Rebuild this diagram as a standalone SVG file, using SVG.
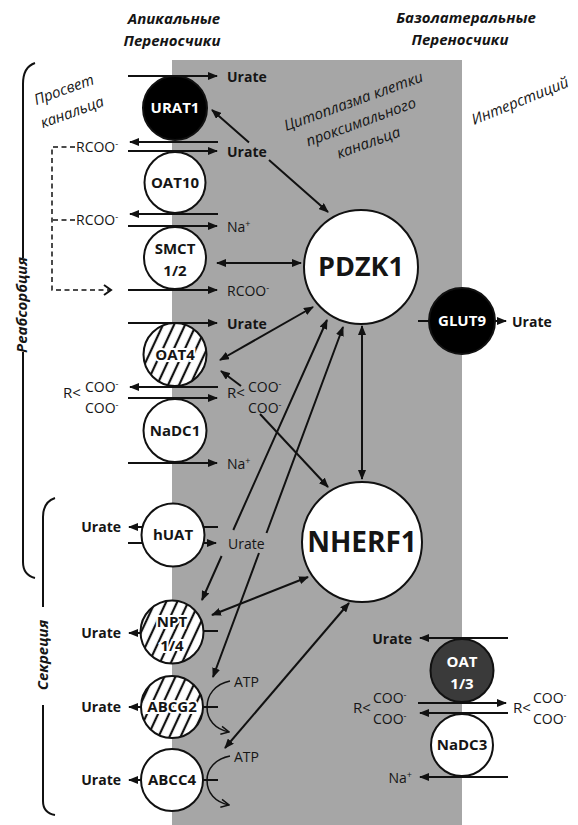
<svg xmlns="http://www.w3.org/2000/svg" width="578" height="825" viewBox="0 0 578 825">
<defs>
<style>
.t{font-family:"Open Sans","Noto Sans",sans-serif;font-size:14px;fill:#151515}
.b{font-weight:bold}
.h{font-weight:bold;font-style:italic;font-size:15px;text-anchor:middle}
.i{font-style:italic;font-size:15px;text-anchor:middle}
.c{font-weight:bold;font-size:15px;text-anchor:middle}
.big{font-weight:bold;text-anchor:middle}
.r{font-size:15px}
.w{fill:#fff}
.k{stroke:#fff;stroke-width:4;paint-order:stroke}
.ln{fill:none;stroke:#111;stroke-width:2}
.ar{fill:none;stroke:#111;stroke-width:2;marker-end:url(#ah)}
.da{fill:none;stroke:#111;stroke-width:2;marker-start:url(#ah);marker-end:url(#ah)}
.ds{fill:none;stroke:#111;stroke-width:1.5;stroke-dasharray:5 3.5}
.cv{fill:none;stroke:#111;stroke-width:1.5;marker-end:url(#ch)}
.nd{stroke:#111;stroke-width:2}
.sup{font-size:9px}
</style>
<marker id="ah" viewBox="0 0 10 8" refX="9" refY="4" markerWidth="10" markerHeight="8" markerUnits="userSpaceOnUse" orient="auto-start-reverse"><path d="M0,0 L10,4 L0,8 z" fill="#111"/></marker>
<marker id="ch" viewBox="0 0 10 10" refX="9" refY="5" markerWidth="10" markerHeight="10" markerUnits="userSpaceOnUse" orient="auto"><path d="M1,1 L9,5 L1,9" fill="none" stroke="#111" stroke-width="1.5"/></marker>
<pattern id="hatch" patternUnits="userSpaceOnUse" width="10" height="10" patternTransform="rotate(25)"><rect width="10" height="10" fill="#fff"/><line x1="5" y1="-1" x2="5" y2="11" stroke="#111" stroke-width="2.2"/></pattern>
</defs>
<rect width="578" height="825" fill="#fff"/>
<rect id="cytoplasm" x="172" y="60" width="290" height="765" fill="#a6a6a6"/>

<g id="titles">
<text class="t h" x="174" y="24">Апикальные</text>
<text class="t h" x="172" y="46">Переносчики</text>
<text class="t h" x="466" y="23">Базолатеральные</text>
<text class="t h" x="460" y="45">Переносчики</text>
<g transform="translate(68,101) rotate(-20)"><text class="t i" x="0" y="-7">Просвет</text><text class="t i" x="0" y="17">канальца</text></g>
<g transform="translate(361,122) rotate(-20)"><text class="t i" x="0" y="-17">Цитоплазма клетки</text><text class="t i" x="0" y="5">проксимального</text><text class="t i" x="0" y="27">канальца</text></g>
<g transform="translate(520,101) rotate(-22)"><text class="t i" x="0" y="5">Интерстиций</text></g>
<text class="t h" transform="translate(27,305) rotate(-90)">Реабсорбция</text>
<text class="t h" transform="translate(48,655) rotate(-90)">Секреция</text>
</g>

<g id="brackets" class="ln">
<path d="M35,63 Q23,67 23,84 L23,258 M23,352 L23,562 Q23,575 35,578"/>
<path d="M55,498 Q43,502 43,517 L43,607 M43,705 L43,801 Q43,813 55,815"/>
</g>

<g id="connectors">
<path class="ar" d="M128,76 H217"/>
<path class="ar" d="M218,142 H130"/>
<path class="ar" d="M128,151 H217"/>
<path class="ar" d="M218,214 H130"/>
<path class="ar" d="M128,226 H217"/>
<path class="ar" d="M128,290 H217"/>
<path class="ar" d="M128,323 H217"/>
<path class="ar" d="M218,387 H130"/>
<path class="ar" d="M128,398 H217"/>
<path class="ar" d="M128,463 H217"/>
<path class="ar" d="M142,527 H129"/>
<path class="ln" d="M204,527 H218 M128,543 H142"/>
<path class="ar" d="M204,543 H216"/>
<path class="ar" d="M142,633 H129"/>
<path class="ln" d="M203,631 H218"/>
<path class="ar" d="M142,707 H129"/>
<path class="ln" d="M203,707 H218"/>
<path class="ar" d="M142,780 H129"/>
<path class="ln" d="M203,780 H218"/>
<path class="cv" d="M230,681 C215,684 207,695 207,707 C207,720 215,729 229,732"/>
<path class="cv" d="M230,756 C215,759 207,769 207,780 C207,793 215,802 229,805"/>
<path class="ds" d="M75,147 H52 V290 H110"/>
<path class="ds" d="M75,220 H52"/>
<path class="ln" d="M104,285 L111,290 L104,295" stroke-width="1.5"/>
<path class="ln" d="M418,321 H429"/>
<path class="ar" d="M495,321 H506"/>
<path class="ar" d="M508,638 H420"/>
<path class="ar" d="M418,703 H506"/>
<path class="ar" d="M508,713 H420"/>
<path class="ar" d="M508,777 H420"/>
<path class="da" d="M212,110 L249,142.5 M269,160 L328,212"/>
<path class="da" d="M217,263 H301"/>
<path class="da" d="M220,360 L313,307"/>
<path class="ar" d="M241,386 L221,371"/>
<path class="ar" d="M260,414 L328,487"/>
<path class="da" d="M327,320 L233.3,530 M221.6,556 L202,600"/>
<path class="da" d="M343,327 L266.5,533 M259,553 L213,677"/>
<path class="da" d="M362,326 V479"/>
<path class="da" d="M212,615 L308,577"/>
<path class="da" d="M225,748 L349,603"/>
</g>

<g id="labels">
<text class="t b" x="227" y="82">Urate</text>
<text class="t" x="76" y="152">RCOO<tspan class="sup" dy="-5">-</tspan></text>
<text class="t b" x="227" y="157">Urate</text>
<text class="t" x="76" y="225">RCOO<tspan class="sup" dy="-5">-</tspan></text>
<text class="t" x="227" y="232">Na<tspan class="sup" dy="-5">+</tspan></text>
<text class="t" x="227" y="296">RCOO<tspan class="sup" dy="-5">-</tspan></text>
<text class="t b" x="227" y="329">Urate</text>
<text class="t r" x="63" y="398">R&lt;</text>
<text class="t" x="85" y="392">COO<tspan class="sup" dy="-5">-</tspan></text>
<text class="t" x="85" y="413">COO<tspan class="sup" dy="-5">-</tspan></text>
<text class="t r" x="227" y="398">R&lt;</text>
<text class="t" x="248" y="392">COO<tspan class="sup" dy="-5">-</tspan></text>
<text class="t" x="248" y="413">COO<tspan class="sup" dy="-5">-</tspan></text>
<text class="t" x="227" y="469">Na<tspan class="sup" dy="-5">+</tspan></text>
<text class="t b" x="121" y="532" text-anchor="end">Urate</text>
<text class="t" x="228" y="549">Urate</text>
<text class="t b" x="121" y="638" text-anchor="end">Urate</text>
<text class="t b" x="121" y="712" text-anchor="end">Urate</text>
<text class="t b" x="121" y="785" text-anchor="end">Urate</text>
<text class="t" x="234" y="687">ATP</text>
<text class="t" x="234" y="762">ATP</text>
<text class="t b" x="512" y="327">Urate</text>
<text class="t b" x="412" y="644" text-anchor="end">Urate</text>
<text class="t r" x="353" y="713">R&lt;</text>
<text class="t" x="373" y="703">COO<tspan class="sup" dy="-5">-</tspan></text>
<text class="t" x="373" y="724">COO<tspan class="sup" dy="-5">-</tspan></text>
<text class="t r" x="513" y="713">R&lt;</text>
<text class="t" x="533" y="703">COO<tspan class="sup" dy="-5">-</tspan></text>
<text class="t" x="533" y="724">COO<tspan class="sup" dy="-5">-</tspan></text>
<text class="t" x="412" y="783" text-anchor="end">Na<tspan class="sup" dy="-5">+</tspan></text>
</g>

<g id="URAT1"><circle class="nd" cx="175" cy="108" r="32" fill="#000"/><text class="t c w" x="175" y="113">URAT1</text></g>
<g id="OAT10"><circle class="nd" cx="175" cy="182.5" r="30.5" fill="#fff"/><text class="t c" x="175" y="188">OAT10</text></g>
<g id="SMCT12"><circle class="nd" cx="175" cy="258" r="31" fill="#fff"/><text class="t c" x="175" y="254">SMCT</text><text class="t c" x="175" y="276">1/2</text></g>
<g id="OAT4"><circle class="nd" cx="175" cy="354.5" r="31.5" fill="url(#hatch)"/><text class="t c k" x="175" y="360">OAT4</text></g>
<g id="NaDC1"><circle class="nd" cx="175" cy="430.5" r="31.5" fill="#fff"/><text class="t c" x="175" y="436">NaDC1</text></g>
<g id="hUAT"><circle class="nd" cx="173" cy="535" r="31.5" fill="#fff"/><text class="t c" x="173" y="540">hUAT</text></g>
<g id="NPT14"><circle class="nd" cx="172" cy="632" r="31.5" fill="url(#hatch)"/><text class="t c k" x="172" y="627">NPT</text><text class="t c k" x="172" y="651">1/4</text></g>
<g id="ABCG2"><circle class="nd" cx="172" cy="707" r="31" fill="url(#hatch)"/><text class="t c k" x="172" y="712">ABCG2</text></g>
<g id="ABCC4"><circle class="nd" cx="172" cy="780" r="31" fill="#fff"/><text class="t c" x="172" y="785">ABCC4</text></g>
<g id="PDZK1"><circle class="nd" cx="361" cy="267" r="57" fill="#fff"/><text class="t big" x="361" y="276" style="font-size:27px">PDZK1</text></g>
<g id="NHERF1"><circle class="nd" cx="362" cy="542" r="60" fill="#fff"/><text class="t big" x="362" y="552" style="font-size:28px">NHERF1</text></g>
<g id="GLUT9"><circle class="nd" cx="462" cy="321" r="33" fill="#000"/><text class="t c w" x="462" y="326">GLUT9</text></g>
<g id="OAT13"><circle class="nd" cx="462" cy="670.5" r="31.5" fill="#3a3a3a"/><text class="t c w" x="462" y="667">OAT</text><text class="t c w" x="462" y="689">1/3</text></g>
<g id="NaDC3"><circle class="nd" cx="462" cy="745" r="31" fill="#fff"/><text class="t c" x="462" y="750">NaDC3</text></g>
</svg>
